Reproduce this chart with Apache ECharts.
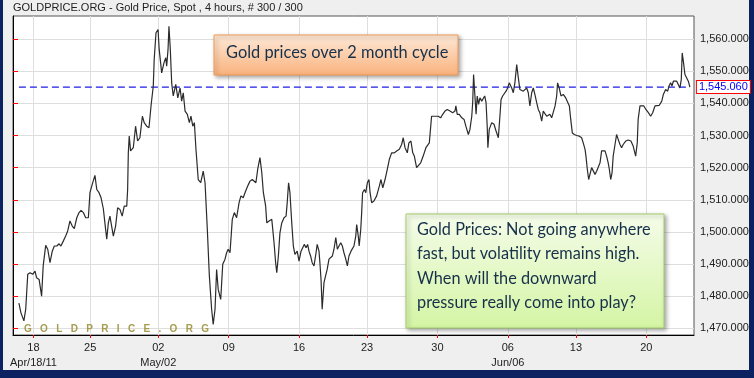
<!DOCTYPE html>
<html>
<head>
<meta charset="utf-8">
<script src="https://cdn.jsdelivr.net/npm/echarts@6/dist/echarts.min.js"></script>
<style>
  html, body { margin: 0; padding: 0; background: #0b2160; }
  #chart { width: 754px; height: 378px; }
</style>
</head>
<body>
<div id="chart"></div>
<script>
// bar index (4-hour bars, 0..300) and spot price
const bars = [2.6,3.5,4.8,5.6,6.5,7.5,8.7,9.7,10.4,11.5,12.6,13.3,14.4,15.3,16.3,17.3,18.2,19.3,20.3,21.1,22.2,23.2,24.1,25.1,26.1,27.0,28.1,29.1,30.0,31.0,32.0,33.2,33.9,34.9,36.1,36.9,37.9,38.8,39.8,40.8,41.3,42.0,42.7,43.5,44.2,45.2,46.1,47.1,48.1,49.0,50.1,50.5,50.8,51.2,51.8,53.0,54.0,54.9,55.9,57.0,57.8,58.9,59.9,60.8,61.8,62.2,63.0,63.9,64.4,65.5,66.5,67.3,67.7,68.3,68.7,69.3,69.9,70.6,71.7,72.6,73.6,74.3,75.0,75.8,76.8,77.7,78.4,79.2,79.9,80.6,81.6,82.7,83.8,84.6,85.6,86.5,87.5,88.2,89.0,89.7,90.4,91.5,92.4,93.4,94.1,94.8,95.6,96.6,97.5,98.5,99.6,100.4,101.4,102.5,103.4,104.4,105.4,106.2,107.0,107.8,108.8,109.6,110.3,111.3,111.8,112.8,114.0,115.0,115.7,116.2,116.9,117.6,118.4,119.4,120.3,120.8,121.4,122.0,122.8,123.5,124.2,125.2,126.0,126.9,127.6,128.3,129.1,129.8,130.4,131.1,131.8,132.6,133.5,134.0,134.8,135.2,135.7,136.2,137.0,137.7,138.4,139.2,139.9,140.7,141.4,142.2,142.9,143.6,144.4,145.1,145.8,146.6,147.3,148.0,148.9,150.2,151.0,151.4,152.1,152.5,153.2,153.6,154.0,154.8,155.4,156.1,156.8,157.3,158.0,159.0,160.2,161.4,162.1,162.9,163.9,164.9,165.8,166.8,168.0,169.0,170.2,171.2,171.9,172.7,173.7,174.4,175.3,176.1,176.8,177.8,178.5,179.6,180.7,181.9,182.7,183.4,184.0,184.4,185.1,186.3,187.3,188.4,189.3,190.3,191.3,192.5,193.7,194.7,195.1,195.7,196.6,197.7,198.7,199.5,200.6,201.3,202.1,202.5,202.9,203.4,204.0,204.5,205.1,205.7,206.5,207.2,207.8,208.4,208.9,209.2,209.8,210.9,211.9,212.8,213.8,214.5,215.0,215.7,216.4,217.2,217.9,218.6,219.7,220.4,221.1,221.9,222.6,223.3,224.8,226.3,227.0,227.7,228.5,229.2,229.9,230.7,231.4,232.1,232.9,233.6,234.3,235.1,235.8,236.5,237.3,238.0,238.8,239.5,239.9,240.6,241.4,242.4,243.5,244.2,245.1,245.7,246.4,247.3,248.3,249.5,250.5,251.2,252.0,252.4,253.0,253.6,254.2,254.9,255.6,256.4,257.1,257.8,258.6,259.3,260.0,260.8,261.5,262.2,262.7,263.3,263.9,264.4,265.2,265.9,266.6,267.4,268.1,268.8,270.0,271.0,272.2,273.2,274.3,275.0,275.4,276.2,276.9,277.9,278.8,279.9,280.9,281.8,282.8,283.5,284.7,285.8,286.5,287.5,288.4,289.0,289.7,290.3,290.9,291.6,292.4,293.1,293.8,294.4,294.8,295.4,296.0,296.8,297.5,298.2];
const prices = [1477.8,1474.8,1472.3,1475.9,1486.8,1487.3,1486.8,1487.8,1485.7,1485.2,1480.0,1489.4,1495.8,1494.6,1490.4,1494.0,1495.6,1495.6,1496.3,1495.6,1497.2,1498.7,1500.3,1503.4,1501.8,1501.0,1504.4,1506.0,1506.7,1506.0,1504.4,1504.4,1512.2,1514.8,1517.6,1513.2,1512.2,1510.6,1507.2,1500.8,1497.7,1502.8,1504.9,1504.4,1498.7,1501.8,1507.5,1507.0,1504.9,1508.0,1508.0,1513.2,1524.6,1529.8,1525.2,1526.2,1532.9,1528.3,1529.3,1536.0,1534.0,1532.9,1532.4,1539.2,1545.4,1553.7,1562.0,1563.0,1556.8,1549.5,1552.6,1554.2,1551.6,1556.8,1564.0,1556.8,1546.4,1542.3,1545.9,1541.7,1544.8,1540.7,1543.3,1537.6,1536.6,1534.0,1536.0,1532.9,1534.0,1525.7,1516.3,1515.3,1518.9,1515.3,1500.8,1486.3,1475.9,1471.2,1475.9,1488.3,1482.1,1479.0,1489.9,1491.5,1493.5,1494.6,1493.5,1503.9,1506.0,1504.4,1509.1,1511.2,1510.6,1512.7,1514.3,1515.8,1516.3,1516.3,1515.3,1519.5,1523.1,1518.4,1512.2,1508.0,1502.8,1503.4,1503.9,1496.6,1490.4,1487.3,1492.5,1499.7,1502.8,1504.4,1504.9,1509.1,1515.3,1512.2,1502.8,1495.6,1493.0,1494.0,1490.9,1494.0,1494.6,1496.1,1495.1,1496.1,1494.0,1492.5,1490.4,1489.4,1493.5,1496.1,1494.0,1490.4,1485.2,1475.9,1484.2,1486.3,1488.3,1491.5,1492.0,1492.5,1494.6,1498.2,1494.6,1495.6,1496.6,1495.6,1493.5,1491.5,1489.4,1492.5,1494.0,1495.6,1498.7,1502.3,1498.7,1495.6,1500.8,1506.0,1512.2,1513.2,1512.2,1515.3,1516.3,1512.2,1509.1,1509.6,1511.2,1514.3,1516.3,1513.7,1516.3,1519.5,1522.6,1524.6,1524.6,1525.2,1525.7,1527.2,1529.3,1526.2,1524.6,1527.7,1528.3,1524.6,1523.6,1520.0,1519.5,1521.5,1523.6,1526.2,1525.7,1527.7,1527.2,1536.0,1536.6,1536.0,1536.0,1535.5,1536.6,1537.6,1538.1,1537.6,1537.1,1537.6,1539.2,1536.6,1536.6,1535.5,1535.0,1532.9,1530.3,1531.9,1536.0,1540.2,1549.0,1543.3,1536.6,1542.3,1539.7,1541.7,1540.7,1541.2,1542.3,1540.2,1532.9,1526.2,1531.9,1534.0,1533.5,1531.4,1529.3,1536.0,1541.2,1542.3,1542.8,1543.8,1544.8,1546.4,1544.8,1543.3,1546.4,1552.1,1548.0,1544.3,1543.8,1544.8,1543.3,1539.2,1543.3,1544.8,1542.8,1540.2,1538.1,1537.1,1534.5,1537.6,1537.1,1536.0,1536.6,1536.6,1535.5,1536.0,1539.2,1542.3,1546.4,1544.8,1542.3,1542.8,1541.7,1542.3,1539.2,1535.0,1530.8,1530.3,1530.0,1529.8,1529.3,1527.7,1525.7,1523.6,1519.5,1516.3,1516.8,1520.0,1519.5,1517.9,1518.9,1518.4,1521.5,1525.2,1525.7,1525.2,1523.6,1521.5,1519.5,1516.3,1518.4,1523.6,1527.2,1530.3,1528.8,1527.2,1526.2,1527.2,1528.3,1528.6,1528.3,1526.7,1523.6,1527.7,1535.0,1539.2,1538.6,1539.2,1538.1,1537.1,1536.0,1537.1,1539.2,1539.2,1539.4,1540.7,1542.8,1544.3,1543.8,1545.4,1546.4,1545.4,1546.9,1546.4,1546.9,1547.5,1544.8,1547.5,1555.7,1552.6,1549.0,1548.5,1546.9,1545.06];

// week-start ticks (bar index) and their labels
const weekTicks = [9, 34, 64, 95, 126, 156, 187, 218, 248, 279];
const weekLabels = ['18', '25', '02', '09', '16', '23', '30', '06', '13', '20'];
const monthLabels = ['Apr/18/11', '', 'May/02', '', '', '', '', 'Jun/06', '', ''];
const priceTicks = [1470, 1480, 1490, 1500, 1510, 1520, 1530, 1540, 1550, 1560];

const lastPrice = prices[prices.length - 1];

function fmtPrice(v) {
  const s = v.toFixed(3);
  const [ip, dp] = s.split('.');
  return ip.replace(/\B(?=(\d{3})+(?!\d))/g, ',') + '.' + dp;
}

const chart = echarts.init(document.getElementById('chart'));

const textFont = 'Lato, "Open Sans", sans-serif';
const axisFont = '"Liberation Sans", Arial, sans-serif';

const option = {
  animation: false,
  backgroundColor: 'transparent',
  grid: {
    left: 13,
    top: 16,
    right: 60,
    bottom: 43,
    show: true,
    backgroundColor: '#ffffff',
    borderColor: '#555555',
    borderWidth: 1,
  },
  xAxis: {
    type: 'value',
    min: 0,
    max: 300,
    axisLine: { show: true, onZero: false, lineStyle: { color: '#000', width: 1 } },
    axisTick: {
      show: true,
      length: 3,
      customValues: weekTicks,
      lineStyle: { color: '#ff0000' },
    },
    axisLabel: {
      customValues: weekTicks,
      margin: 5,
      color: '#222',
      fontSize: 11,
      fontFamily: axisFont,
      lineHeight: 15,
      formatter: (v) => {
        const i = weekTicks.indexOf(v);
        if (i < 0) return '';
        return monthLabels[i] ? weekLabels[i] + '\n' + monthLabels[i] : weekLabels[i];
      },
    },
    splitLine: { show: true, lineStyle: { color: '#dedede', width: 1 } },
  },
  yAxis: {
    type: 'value',
    position: 'right',
    min: 1467.9,
    max: 1567.2,
    axisLine: { show: true, lineStyle: { color: '#000', width: 1 } },
    axisTick: {
      show: true,
      length: 5,
      customValues: priceTicks,
      lineStyle: { color: '#ff0000' },
    },
    axisLabel: {
      customValues: priceTicks,
      margin: 6,
      color: '#222',
      fontSize: 11,
      fontFamily: axisFont,
      formatter: (v) => fmtPrice(v),
    },
    splitLine: { show: true, lineStyle: { color: '#dedede', width: 1 } },
  },
  series: [
    {
      // current price level, dashed
      type: 'line',
      data: [[bars[0], lastPrice], [bars[bars.length - 1], lastPrice]],
      showSymbol: false,
      symbol: 'none',
      silent: true,
      z: 2,
      color: '#1f1fe6',
      lineStyle: { color: '#1f1fe6', type: [7, 4], width: 1.2 },
      endLabel: {
        show: true,
        distance: 7,
        formatter: () => fmtPrice(lastPrice),
        color: '#0000ff',
        fontSize: 11,
        fontFamily: axisFont,
        backgroundColor: '#ffffff',
        borderColor: '#ff0000',
        borderWidth: 1,
        padding: [1, 2, 0, 2],
      },
    },
    {
      type: 'line',
      data: bars.map((b, i) => [b, prices[i]]),
      showSymbol: false,
      symbol: 'none',
      z: 3,
      color: '#2b2b2b',
      lineStyle: { color: '#2b2b2b', width: 1.2 },
    },
  ],
  graphic: [
    {
      type: 'rect',
      z: -100,
      shape: { x: 3, y: 0, width: 746, height: 370 },
      style: { fill: '#efefef' },
    },
    {
      type: 'text',
      left: 13,
      top: 2,
      z: 50,
      style: {
        text: 'GOLDPRICE.ORG - Gold Price, Spot , 4 hours, # 300 / 300',
        fill: '#222',
        font: '11px "Liberation Sans", Arial, sans-serif',
      },
    },
    {
      type: 'text',
      x: 24,
      y: 329,
      z: 1,
      style: {
        text: 'G   O   L   D   P   R   I   C   E   .   O   R   G',
        fill: '#a59c4e',
        font: 'bold 10px "Liberation Sans", Arial, sans-serif',
        verticalAlign: 'middle',
      },
    },
    {
      type: 'rect',
      z: 50,
      shape: { x: 214, y: 35, width: 244, height: 40 },
      style: {
        fill: new echarts.graphic.LinearGradient(0, 0, 0, 1, [
          { offset: 0, color: '#fee9d8' },
          { offset: 1, color: '#f9b27c' },
        ]),
        stroke: '#f39a55',
        lineWidth: 1,
        shadowBlur: 4,
        shadowOffsetX: 2,
        shadowOffsetY: 2,
        shadowColor: 'rgba(0,0,0,0.35)',
      },
    },
    {
      type: 'text',
      z: 51,
      x: 226,
      y: 52.5,
      style: {
        text: 'Gold prices over 2 month cycle',
        fill: '#17304a',
        font: '16.4px ' + textFont,
        verticalAlign: 'middle',
      },
    },
    {
      type: 'rect',
      z: 50,
      shape: { x: 406, y: 214, width: 258, height: 114 },
      style: {
        fill: new echarts.graphic.LinearGradient(0, 0, 0, 1, [
          { offset: 0, color: '#f5fcea' },
          { offset: 1, color: '#d4f5a4' },
        ]),
        stroke: '#a6cc6c',
        lineWidth: 1,
        shadowBlur: 4,
        shadowOffsetX: 2,
        shadowOffsetY: 2,
        shadowColor: 'rgba(0,0,0,0.35)',
      },
    },
    {
      type: 'text',
      z: 51,
      x: 417,
      y: 217.5,
      style: {
        text: 'Gold Prices: Not going anywhere\nfast, but volatility remains high.\nWhen will the downward\npressure really come into play?',
        fill: '#17304a',
        font: '16.3px ' + textFont,
        lineHeight: 24.4,
        verticalAlign: 'top',
      },
    },
  ],
};

chart.setOption(option);
</script>
</body>
</html>
